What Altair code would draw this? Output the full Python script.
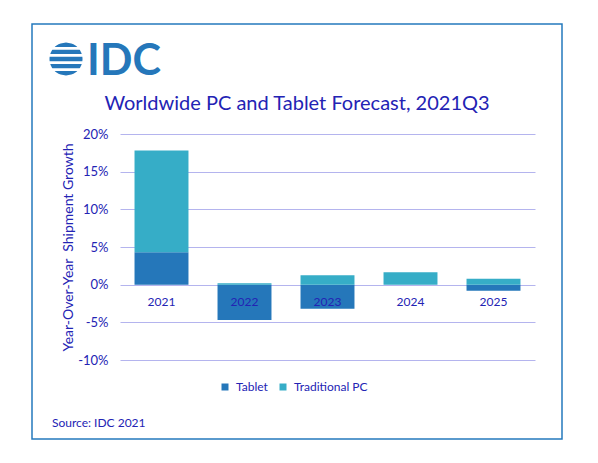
import altair as alt
import pandas as pd
import numpy as np

years = ["2021", "2022", "2023", "2024", "2025"]
tablet = [4.3, -4.7, -3.2, 0.0, -0.8]
trad_pc = [13.5, 0.2, 1.25, 1.65, 0.8]
series = ["Tablet", "Traditional PC"]
y_ticks = [-10, -5, 0, 5, 10, 15, 20]

TEXT = "#2323B4"
C_TAB = "#2577BA"
C_PC = "#36ADC7"
FRAME = "#2479BD"
GRID = "#B4B4EE"
FONT = "Lato"

rows = []
for i, yr in enumerate(years):
    rows.append({"Year": yr, "Segment": series[0], "Growth": tablet[i], "ord": 0})
    rows.append({"Year": yr, "Segment": series[1], "Growth": trad_pc[i], "ord": 1})
df = pd.DataFrame(rows)
lab = pd.DataFrame({"Year": years, "zero": [0] * len(years)})
one = pd.DataFrame({"a": [0]})

xscale = alt.Scale(domain=years, paddingInner=0.35, paddingOuter=0.175)
yscale = alt.Scale(domain=[-10, 20], nice=False, zero=False)

bars = alt.Chart(df).mark_bar().encode(
    x=alt.X("Year:N", sort=years, scale=xscale, axis=None),
    y=alt.Y(
        "Growth:Q",
        stack="zero",
        scale=yscale,
        axis=alt.Axis(
            values=y_ticks,
            tickCount=7,
            labelOverlap=False,
            labelExpr="datum.value + '%'",
            title="Year-Over-Year\u00a0 Shipment Growth",
            titleX=-52,
            titleY=113,
            titleAngle=-90,
            titleAlign="center",
            titleBaseline="middle",
            titleFont=FONT,
            titleFontSize=14,
            titleFontWeight="normal",
            titleColor=TEXT,
            domain=False,
            ticks=False,
            labelPadding=12,
            labelFont=FONT,
            labelFontSize=13,
            labelColor=TEXT,
            grid=True,
            gridColor=GRID,
            gridWidth=1,
        ),
    ),
    color=alt.Color(
        "Segment:N",
        scale=alt.Scale(domain=series, range=[C_TAB, C_PC]),
        legend=alt.Legend(
            orient="none",
            legendX=99,
            legendY=247,
            direction="horizontal",
            title=None,
            symbolType="square",
            symbolSize=49,
            symbolStrokeWidth=0,
            labelFont=FONT,
            labelFontSize=12,
            labelColor=TEXT,
            columnPadding=9,
            labelOffset=5,
        ),
    ),
    order=alt.Order("ord:Q"),
)

xlabels = alt.Chart(lab).mark_text(
    font=FONT, fontSize=12, color=TEXT, baseline="middle", align="center", dy=17
).encode(
    x=alt.X("Year:N", sort=years, scale=xscale, axis=None),
    y=alt.Y("zero:Q", scale=yscale),
    text="Year:N",
)

frame = alt.Chart(one).mark_rect(
    fill="white", fillOpacity=0, stroke=FRAME, strokeWidth=1.5
).encode(
    x=alt.value(-88), x2=alt.value(442), y=alt.value(-110), y2=alt.value(305)
)

title = alt.Chart(one).mark_text(
    text="Worldwide PC and Tablet Forecast, 2021Q3",
    font=FONT, fontSize=20, color=TEXT, align="center", baseline="alphabetic",
).encode(x=alt.value(177), y=alt.value(-24))

idc = alt.Chart(one).mark_text(
    text="IDC", font=FONT, fontSize=43, fontWeight="bold", color=C_TAB,
    align="left", baseline="alphabetic",
).encode(x=alt.value(-33), y=alt.value(-59))


def globe_path():
    parts = []
    n = 5
    g = 0.16
    h = (2 - (n - 1) * g) / n
    for i in range(n):
        y0 = -1 + i * (h + g)
        y1 = y0 + h
        ys = np.linspace(y0, y1, 6)
        right = [(np.sqrt(max(0.0, 1 - v * v)), v) for v in ys]
        left = [(-np.sqrt(max(0.0, 1 - v * v)), v) for v in ys[::-1]]
        pts = right + left
        parts.append("M" + " L".join(f"{px:.3f},{py:.3f}" for px, py in pts) + " Z")
    return " ".join(parts)


globe = alt.Chart(one).mark_point(
    shape=globe_path(), filled=True, fill=C_TAB, fillOpacity=1, strokeWidth=0, size=1089
).encode(x=alt.value(-54), y=alt.value(-75))

source = alt.Chart(one).mark_text(
    text="Source: IDC 2021", font=FONT, fontSize=12, color=TEXT,
    align="left", baseline="middle",
).encode(x=alt.value(-68), y=alt.value(289))

chart = alt.layer(frame, bars, xlabels, title, idc, globe, source).properties(
    width=415,
    height=226,
    autosize=alt.AutoSizeParams(type="none"),
    padding={"left": 112, "top": 126, "right": 40, "bottom": 100},
    background="white",
).configure_view(strokeWidth=0)

chart.save("out.html", embed_options={"renderer": "svg", "actions": False})
